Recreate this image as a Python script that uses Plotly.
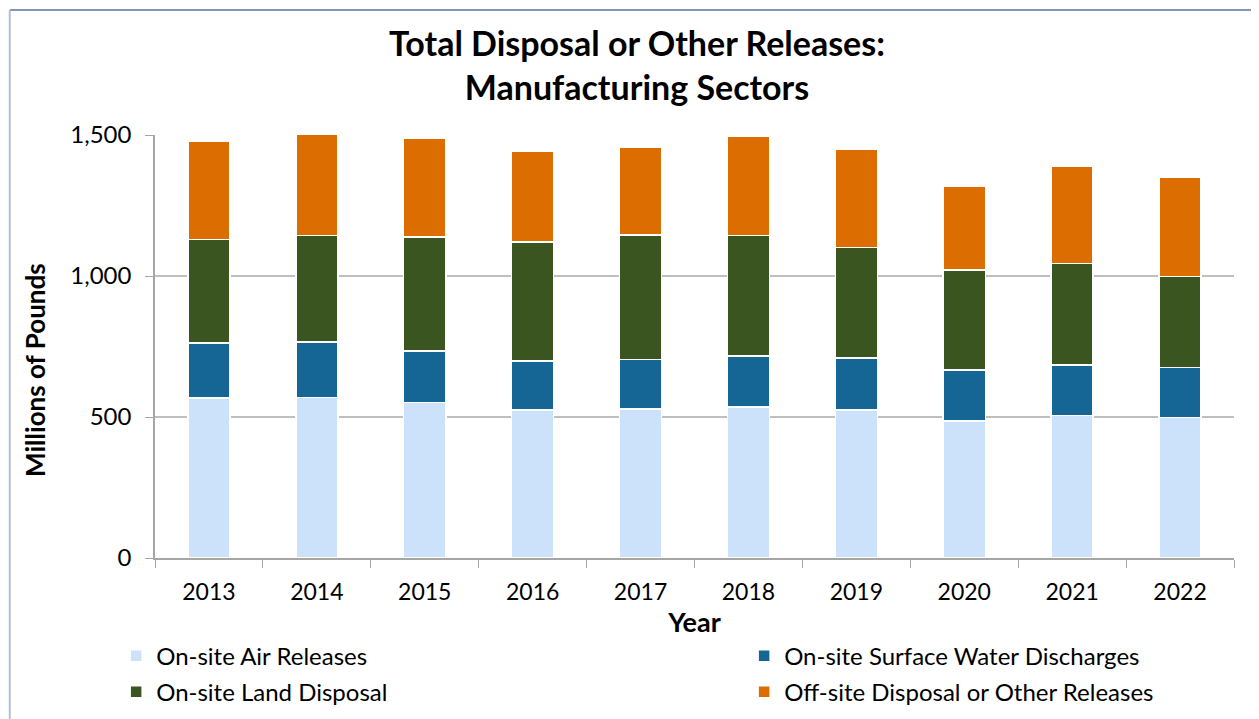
import plotly.graph_objects as go

years = ["2013", "2014", "2015", "2016", "2017", "2018", "2019", "2020", "2021", "2022"]

# millions of pounds
air = [567, 569, 552, 525, 528, 535, 525, 486, 506, 498]
water = [195, 197, 182, 174, 176, 181, 184, 180, 178, 178]
land = [367, 378, 404, 421, 441, 428, 392, 356, 361, 323]
offsite = [348, 359, 349, 321, 313, 352, 347, 295, 344, 350]

series = [
    ("On-site Air Releases", air, "#cce2fb", "legend"),
    ("On-site Surface Water Discharges", water, "#156694", "legend2"),
    ("On-site Land Disposal", land, "#3a5520", "legend3"),
    ("Off-site Disposal or Other Releases", offsite, "#dc6d00", "legend4"),
]

font = "Lato, Carlito, 'Noto Sans', sans-serif"

fig = go.Figure()
for name, vals, col, leg in series:
    fig.add_trace(go.Bar(x=years, y=vals, name=name, marker_color=col,
                         marker_line_color="white", marker_line_width=1.5,
                         legend=leg))

def leg(x, y):
    return dict(x=x, y=y, xanchor="left", yanchor="middle", orientation="v",
                font=dict(size=24), itemwidth=30, bgcolor="rgba(0,0,0,0)")

fig.update_layout(
    width=1259, height=719,
    barmode="stack", bargap=0.61,
    plot_bgcolor="white", paper_bgcolor="white",
    font=dict(family=font, size=22, color="black"),
    margin=dict(l=147, r=33, t=127, b=169, autoexpand=False),
    legend=leg(-0.036, -0.232),
    legend2=leg(0.546, -0.232),
    legend3=leg(-0.036, -0.317),
    legend4=leg(0.546, -0.317),
    showlegend=True,
)

fig.add_annotation(text="<b>Total Disposal or Other Releases:<br>Manufacturing Sectors</b>",
                   xref="paper", yref="paper", x=0.447, y=1.167,
                   xanchor="center", yanchor="middle", showarrow=False,
                   font=dict(size=34, family=font, color="black"))

fig.add_annotation(text="<b>Millions of Pounds</b>", textangle=-90,
                   xref="paper", yref="paper", x=-0.1115, y=0.444,
                   xanchor="center", yanchor="middle", showarrow=False,
                   font=dict(size=26, family=font, color="black"))

fig.update_xaxes(
    showline=True, linecolor="#a6a6a6", linewidth=1.5,
    ticks="outside", ticklen=8, tickcolor="#a6a6a6", tickson="boundaries",
    ticklabelstandoff=13,
    title=dict(text="<b>Year</b>", standoff=4, font=dict(size=27)),
    tickfont=dict(size=23),
)
fig.update_yaxes(
    range=[0, 1500], tickvals=[0, 500, 1000, 1500], tickformat=",",
    showline=True, linecolor="#a6a6a6", linewidth=1.5,
    ticks="outside", ticklen=8, tickcolor="#a6a6a6", ticklabelstandoff=9,
    showgrid=True, gridcolor="#bfbfbf", gridwidth=1.5, zeroline=False,
    tickfont=dict(size=24),
)

# outer chart frame (top and left edges)
fig.add_shape(type="line", xref="paper", yref="paper",
              x0=-0.1346, x1=1.2, y0=1.2955, y1=1.2955,
              line=dict(color="#7f98b8", width=2))
fig.add_shape(type="line", xref="paper", yref="paper",
              x0=-0.1346, x1=-0.1346, y0=1.2955, y1=-0.5,
              line=dict(color="#b3bfd3", width=2))

fig.write_html("out.html")
